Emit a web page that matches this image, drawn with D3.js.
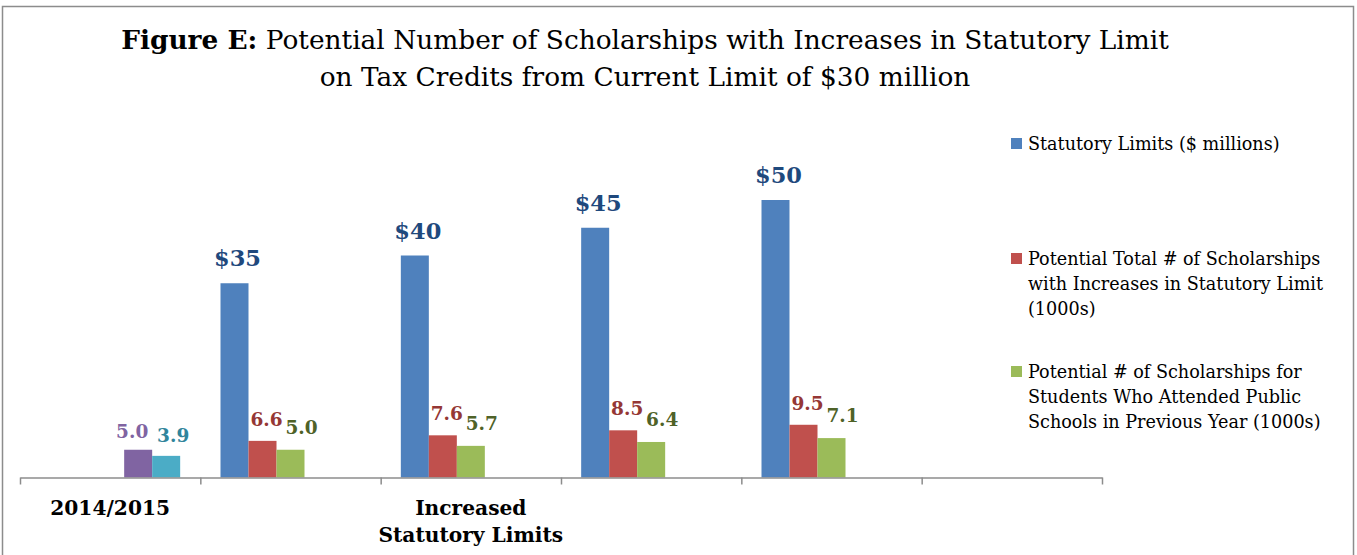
<!DOCTYPE html>
<html>
<head>
<meta charset="utf-8">
<script src="https://cdn.jsdelivr.net/npm/d3@7"></script>
<style>
  html, body { margin: 0; padding: 0; background: #fff; }
  svg { display: block; }
</style>
</head>
<body>
<svg id="chart" width="1357" height="555"></svg>
<script>
// ---------- DATA ----------
const categories = ["2014/2015", "Limit $35", "Limit $40", "Limit $45", "Limit $50", "Blank"];
const categoryTickLabels = [["2014/2015"], [], ["Increased", "Statutory Limits"], [], [], []];

const seriesKeys = ["statutory", "total", "publicPrev", "current2014", "current2014Public"];
const statutoryLimits      = [null, 35, 40, 45, 50, null];
const totalScholarships    = [null, 6.6, 7.6, 8.5, 9.5, null];
const publicScholarships   = [null, 5.0, 5.7, 6.4, 7.1, null];
const current2014Total     = [5.0, null, null, null, null, null];
const current2014Public    = [3.9, null, null, null, null, null];

const legendLabels = [
  ["Statutory Limits ($ millions)"],
  ["Potential Total # of Scholarships", "with Increases in Statutory Limit", "(1000s)"],
  ["Potential # of Scholarships for", "Students Who Attended Public", "Schools in Previous Year (1000s)"]
];

const titleBold = "Figure E:";
const titleLine1 = " Potential Number of Scholarships with Increases in Statutory Limit";
const titleLine2 = "on Tax Credits from Current Limit of $30 million";

// ---------- STYLE ----------
const seriesValues = [statutoryLimits, totalScholarships, publicScholarships, current2014Total, current2014Public];
const barColors   = ["#4f81bd", "#c0504d", "#9bbb59", "#8064a2", "#4bacc6"];
const labelColors = ["#1f497d", "#953735", "#4f6228", "#8064a2", "#31859c"];
const labelSize   = [22.5, 18.5, 18.5, 18.5, 18.5];
const labelDx     = [3, 4, 11, -6, 7];
const labelGap    = [17, 15, 16, 12, 14];
const labelFmt    = [d => "$" + d, d => d.toFixed(1), d => d.toFixed(1), d => d.toFixed(1), d => d.toFixed(1)];

const SERIF = "'DejaVu Serif', 'Liberation Serif', serif";

const svg = d3.select("#chart");
svg.append("rect").attr("width", 1357).attr("height", 555).attr("fill", "#fff");

// frame
svg.append("rect")
  .attr("x", 2.5).attr("y", 6.5).attr("width", 1351).attr("height", 600)
  .attr("fill", "none").attr("stroke", "#8c8c8c").attr("stroke-width", 1.5);

// title
const title = svg.append("text")
  .attr("x", 645).attr("y", 49)
  .attr("text-anchor", "middle")
  .attr("font-family", SERIF).attr("font-size", 26.4).attr("fill", "#000");
title.append("tspan").attr("font-weight", "bold").text(titleBold);
title.append("tspan").text(titleLine1);
svg.append("text")
  .attr("x", 645).attr("y", 86)
  .attr("text-anchor", "middle")
  .attr("font-family", SERIF).attr("font-size", 26.4).attr("fill", "#000")
  .text(titleLine2);

// scales
const axisLeft = 20, axisRight = 1102, baseY = 477.5;
const x0 = d3.scaleBand().domain(categories).range([axisLeft, axisRight]).padding(0);
const bw = x0.bandwidth();
const groupW = 140;
const x1 = d3.scaleBand().domain(seriesKeys).range([(bw - groupW) / 2, (bw + groupW) / 2]).padding(0);
const y = d3.scaleLinear().domain([0, 60]).range([baseY, baseY - 333]);

// bars
const barData = [];
seriesKeys.forEach((k, si) => {
  seriesValues[si].forEach((v, ci) => {
    if (v !== null) barData.push({ si, key: k, cat: categories[ci], v });
  });
});

const plot = svg.append("g");
plot.selectAll("rect.bar").data(barData).join("rect")
  .attr("class", "bar")
  .attr("x", d => x0(d.cat) + x1(d.key))
  .attr("y", d => y(d.v))
  .attr("width", x1.bandwidth())
  .attr("height", d => y(0) - y(d.v))
  .attr("fill", d => barColors[d.si]);

plot.selectAll("text.lbl").data(barData).join("text")
  .attr("class", "lbl")
  .attr("x", d => x0(d.cat) + x1(d.key) + x1.bandwidth() / 2 + labelDx[d.si])
  .attr("y", d => y(d.v) - labelGap[d.si])
  .attr("text-anchor", "middle")
  .attr("font-family", SERIF).attr("font-weight", "bold")
  .attr("font-size", d => labelSize[d.si])
  .attr("fill", d => labelColors[d.si])
  .text(d => labelFmt[d.si](d.v));

// axis with ticks at category boundaries
const boundary = d3.scaleLinear().domain([0, categories.length]).range([axisLeft, axisRight]);
const axisG = svg.append("g").attr("transform", `translate(0,${baseY})`)
  .call(d3.axisBottom(boundary).tickValues(d3.range(categories.length + 1)).tickSize(7).tickSizeOuter(0).tickFormat(""));
axisG.select(".domain").attr("stroke", "#8c8c8c").attr("stroke-width", 1.5);
axisG.selectAll(".tick line").attr("stroke", "#8c8c8c").attr("stroke-width", 1.5);

// category labels
categories.forEach((c, i) => {
  const lines = categoryTickLabels[i];
  lines.forEach((ln, j) => {
    svg.append("text")
      .attr("x", x0(c) + bw / 2)
      .attr("y", 515 + j * 27)
      .attr("text-anchor", "middle")
      .attr("font-family", SERIF).attr("font-weight", "bold").attr("font-size", 20.2)
      .attr("fill", "#000")
      .text(ln);
  });
});

// legend
const legendTop = [150, 265, 378];
legendLabels.forEach((lines, i) => {
  const g = svg.append("g");
  g.append("rect")
    .attr("x", 1011).attr("y", legendTop[i] - 12)
    .attr("width", 11).attr("height", 11)
    .attr("fill", barColors[i]);
  lines.forEach((ln, j) => {
    g.append("text")
      .attr("x", 1028).attr("y", legendTop[i] + j * 25)
      .attr("font-family", SERIF).attr("font-size", 17.6)
      .attr("fill", "#000")
      .text(ln);
  });
});
</script>
</body>
</html>
